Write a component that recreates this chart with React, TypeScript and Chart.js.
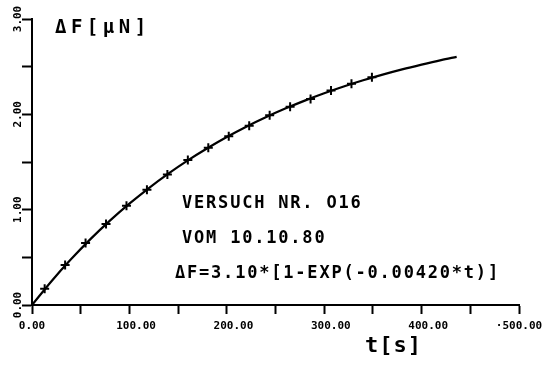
import React, { useEffect, useRef } from 'react';
import { Chart, registerables } from 'chart.js';

Chart.register(...registerables);

// fitted curve ΔF = 3.10*(1-exp(-0.0042 t))
const curveT = [0, 20, 40, 60, 80, 100, 120, 140, 160, 180, 200, 220, 240, 260, 280, 300, 320, 340, 360, 380, 400, 420, 436];
const curveF = [0, 0.25, 0.479, 0.691, 0.885, 1.063, 1.227, 1.378, 1.517, 1.644, 1.762, 1.870, 1.969, 2.060, 2.144, 2.221, 2.292, 2.357, 2.417, 2.472, 2.522, 2.569, 2.603];

// measured points (+ markers)
const measT = [13, 34, 55, 76, 97, 118, 139, 160, 181, 202, 223, 244, 265, 286, 307, 328, 349];
const measF = [0.17, 0.42, 0.65, 0.85, 1.04, 1.21, 1.37, 1.52, 1.65, 1.77, 1.88, 1.99, 2.08, 2.16, 2.25, 2.32, 2.39];

const xLabelValues = [0, 100, 200, 300, 400, 500];
const yLabelValues = [0, 1, 2, 3];

const yTitle = 'ΔF[μN]';
const xTitle = 't[s]';
const noteLines = ['VERSUCH NR. O16', 'VOM 10.10.80', 'ΔF=3.10*[1-EXP(-0.00420*t)]'];

const MONO = '"DejaVu Sans Mono", monospace';

const annotPlugin = {
  id: 'annot',
  afterDraw(chart: any) {
    const ctx = chart.ctx as CanvasRenderingContext2D;
    const xs = chart.scales.x;
    const ys = chart.scales.y;
    ctx.save();
    ctx.fillStyle = '#000';
    ctx.textAlign = 'left';
    ctx.textBaseline = 'alphabetic';
    const put = (text: string, xv: number, yv: number, font: string, spacing: string) => {
      ctx.font = font;
      (ctx as any).letterSpacing = spacing;
      ctx.fillText(text, xs.getPixelForValue(xv), ys.getPixelForValue(yv));
    };
    put(yTitle, 23.6, 2.853, `bold 19px ${MONO}`, '4.5px');
    put(xTitle, 342, -0.493, `bold 22px ${MONO}`, '1px');
    put(noteLines[0], 154, 1.018, `bold 17px ${MONO}`, '1.8px');
    put(noteLines[1], 154, 0.65, `bold 17px ${MONO}`, '1.8px');
    put(noteLines[2], 146.8, 0.283, `bold 17px ${MONO}`, '1.8px');
    ctx.restore();
  },
};

export default function App() {
  const ref = useRef<HTMLCanvasElement>(null);
  useEffect(() => {
    document.body.style.margin = '0';
    const canvas = ref.current!;
    const chart = new Chart(canvas, {
      type: 'scatter',
      data: {
        datasets: [
          {
            data: curveT.map((t, i) => ({ x: t, y: curveF[i] })),
            showLine: true,
            borderColor: '#000',
            borderWidth: 2.2,
            pointRadius: 0,
            cubicInterpolationMode: 'monotone',
          },
          {
            data: measT.map((t, i) => ({ x: t, y: measF[i] })),
            showLine: false,
            pointStyle: 'cross',
            pointRadius: 4.5,
            borderColor: '#000',
            backgroundColor: '#000',
            borderWidth: 2,
          },
        ],
      },
      options: {
        animation: false,
        responsive: false,
        devicePixelRatio: 1,
        layout: { padding: { top: 19, right: 25, bottom: 0, left: 0 } },
        plugins: { legend: { display: false }, tooltip: { enabled: false } },
        scales: {
          x: {
            type: 'linear',
            min: 0,
            max: 500,
            border: { display: true, color: '#000', width: 2 },
            grid: { drawOnChartArea: false, drawTicks: true, tickLength: 9, tickColor: '#000', tickWidth: 2 },
            ticks: {
              stepSize: 50,
              padding: 6,
              color: '#000',
              font: { family: MONO, size: 11, weight: 'bold' },
              maxRotation: 0,
              minRotation: 0,
              autoSkip: false,
              callback: (v: any) => {
                const n = Number(v);
                if (!xLabelValues.includes(n)) return '';
                if (n === 0) return n.toFixed(2);
                if (n === 500) return '·' + n.toFixed(2);
                return '  ' + n.toFixed(2);
              },
            },
            afterFit: (s: any) => { s.height = 60; s.paddingRight = 0; s.paddingLeft = 0; },
          },
          y: {
            type: 'linear',
            min: 0,
            max: 3,
            border: { display: true, color: '#000', width: 2 },
            grid: { drawOnChartArea: false, drawTicks: true, tickLength: 10, tickColor: '#000', tickWidth: 2 },
            ticks: {
              stepSize: 0.5,
              padding: -9,
              color: '#000',
              crossAlign: 'center',
              minRotation: 90,
              maxRotation: 90,
              autoSkip: false,
              font: { family: MONO, size: 11, weight: 'bold' },
              callback: (v: any) => {
                const n = Number(v);
                return yLabelValues.includes(n) ? n.toFixed(2) : '';
              },
            },
            afterFit: (s: any) => { s.width = 32; s.paddingTop = 0; s.paddingBottom = 0; },
          },
        },
      } as any,
      plugins: [annotPlugin],
    });
    return () => chart.destroy();
  }, []);
  return <canvas ref={ref} width={544} height={365} style={{ display: 'block', width: 544, height: 365 }} />;
}
